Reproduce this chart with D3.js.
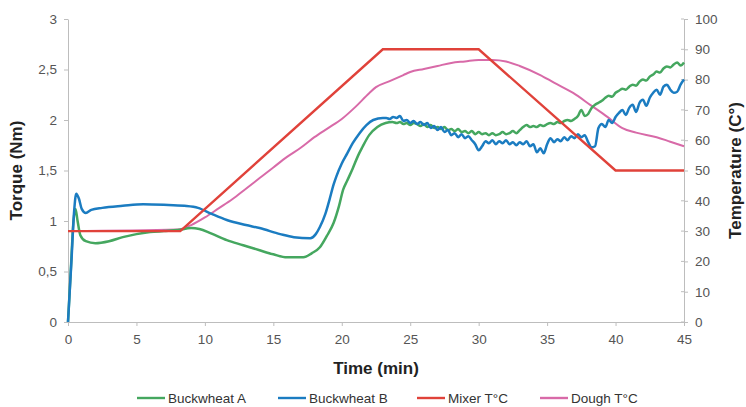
<!DOCTYPE html>
<html><head><meta charset="utf-8">
<script src="https://cdn.jsdelivr.net/npm/d3@7"></script>
<style>body{margin:0;background:#fff}svg{display:block;font-family:"Liberation Sans",Arial,sans-serif}</style>
</head><body><svg id="c" width="746" height="407"></svg>
<script>
const xTicks = [0,5,10,15,20,25,30,35,40,45];
const torqueTicks = [0,0.5,1,1.5,2,2.5,3];
const tempTicks = [0,10,20,30,40,50,60,70,80,90,100];
const seriesNames = ["Buckwheat A","Buckwheat B","Mixer T°C","Dough T°C"];

const buckwheatA = [[0,0],[0.2,0.5],[0.4,1.0],[0.55,1.12],[0.7,1.0],[0.9,0.86],[1.3,0.8],[2,0.78],[3,0.8],[4,0.84],[5,0.87],[6,0.89],[7,0.9],[8,0.91],[9,0.93],[9.6,0.92],[10.4,0.88],[11.6,0.81],[12.8,0.76],[14,0.71],[15,0.67],[16,0.64],[17.2,0.64],[17.8,0.68],[18.4,0.74],[18.9,0.85],[19.4,0.98],[19.8,1.15],[20.1,1.31],[20.4,1.4],[20.8,1.52],[21.2,1.65],[21.5,1.73],[22,1.85],[22.6,1.93],[23.2,1.97],[23.7,1.98],
[24,1.97],[24.25,1.98],[24.5,1.96],[24.75,1.97],[25,1.95],[25.25,1.97],[25.5,1.96],[25.75,1.94],[26,1.96],[26.25,1.93],[26.5,1.95],[26.75,1.92],[27,1.93],[27.25,1.91],[27.5,1.93],[27.75,1.9],[28,1.91],[28.25,1.89],[28.5,1.91],[28.75,1.88],[29,1.89],[29.25,1.87],[29.5,1.89],[29.75,1.86],[30,1.88],[30.25,1.86],[30.5,1.87],[30.75,1.85],[31,1.87],[31.25,1.85],[31.5,1.86],[31.75,1.88],[32,1.86],[32.25,1.87],[32.5,1.89],[32.75,1.87],[33,1.9],[33.25,1.93],[33.5,1.95],[33.75,1.93],[34,1.94],[34.25,1.93],[34.5,1.95],[34.75,1.94],[35,1.96],[35.25,1.97],[35.5,1.96],[35.75,1.98],[36,1.97],[36.25,1.99],[36.5,2.0],[36.75,1.99],[37,2.01],[37.25,2.04],[37.5,2.1],[37.75,2.04],[38,2.06],[38.25,2.12],[38.5,2.15],[38.75,2.17],[39,2.19],[39.25,2.22],[39.5,2.24],[39.75,2.23],[40,2.27],[40.25,2.29],[40.5,2.31],[40.75,2.3],[41,2.33],[41.25,2.35],[41.5,2.34],[41.75,2.38],[42,2.4],[42.25,2.39],[42.5,2.43],[42.75,2.45],[43,2.48],[43.25,2.47],[43.5,2.51],[43.75,2.53],[44,2.52],[44.25,2.55],[44.5,2.57],[44.75,2.54],[45,2.57]];

const buckwheatB = [[0,0],[0.25,0.6],[0.45,1.1],[0.6,1.27],[0.8,1.22],[1.0,1.12],[1.3,1.08],[1.7,1.11],[2.5,1.13],[4,1.15],[5.5,1.165],[7,1.16],[8.5,1.15],[9.5,1.13],[10.5,1.07],[11.6,1.01],[13,0.96],[14,0.93],[15.5,0.87],[16.5,0.84],[17.7,0.83],[18.1,0.87],[18.4,0.94],[18.8,1.07],[19.1,1.21],[19.4,1.36],[19.6,1.44],[20,1.57],[20.4,1.67],[20.8,1.77],[21.3,1.87],[21.8,1.95],[22.3,2.0],[23,2.02],
[23.25,2.02],[23.5,2.01],[23.75,2.03],[24,2.02],[24.25,2.04],[24.5,1.99],[24.75,2.0],[25,1.97],[25.25,1.99],[25.5,1.96],[25.75,1.98],[26,1.95],[26.25,1.97],[26.5,1.92],[26.75,1.94],[27,1.9],[27.25,1.93],[27.5,1.88],[27.75,1.9],[28,1.85],[28.25,1.87],[28.5,1.83],[28.75,1.86],[29,1.82],[29.25,1.84],[29.5,1.8],[29.75,1.76],[30,1.7],[30.25,1.74],[30.5,1.79],[30.75,1.77],[31,1.8],[31.25,1.76],[31.5,1.79],[31.75,1.77],[32,1.8],[32.25,1.76],[32.5,1.78],[32.75,1.75],[33,1.78],[33.25,1.76],[33.5,1.79],[33.75,1.74],[34,1.76],[34.25,1.68],[34.5,1.72],[34.75,1.67],[35,1.76],[35.25,1.82],[35.5,1.78],[35.75,1.81],[36,1.79],[36.25,1.83],[36.5,1.8],[36.75,1.84],[37,1.82],[37.25,1.86],[37.5,1.83],[37.75,1.85],[38,1.78],[38.25,1.73],[38.5,1.74],[38.75,1.92],[39,1.96],[39.25,1.93],[39.5,2.0],[39.75,1.97],[40,2.03],[40.25,2.07],[40.5,2.1],[40.75,2.05],[41,2.12],[41.25,2.15],[41.5,2.08],[41.75,2.17],[42,2.2],[42.25,2.14],[42.5,2.22],[42.75,2.27],[43,2.3],[43.25,2.25],[43.5,2.33],[43.75,2.35],[44,2.3],[44.25,2.27],[44.5,2.28],[44.75,2.35],[45,2.4]];

const mixerT = [[0,30],[8.2,30],[23,90],[30,90],[40,50],[45,50]];

const doughT = [[0,30],[8,30.5],[9,32],[10,34.5],[11,37.5],[12,40.5],[13,44],[14,47.5],[15,51],[16,54.5],[17,57.5],[18,61],[19,64],[20,67],[21,71],[22,75.5],[22.5,77.5],[23.5,79.5],[24.5,81.5],[25,82.5],[26,83.5],[27,84.5],[28,85.5],[29,86],[30,86.5],[31,86.5],[32,86],[33,84.5],[34.5,81.5],[35.5,79],[36.9,75.6],[38.2,71.5],[39.4,67.7],[40.5,64],[41.5,62.5],[43,61],[44,59.5],[45,58]];

const colors = {A:"#45a75f", B:"#1b7cc1", M:"#e0423a", D:"#d86aa8"};

const svg = d3.select("#c");
const L=68, R=684, T=19, B=322;
const x = d3.scaleLinear().domain([0,45]).range([L,R]);
const yL = d3.scaleLinear().domain([0,3]).range([B,T]);
const yR = d3.scaleLinear().domain([0,100]).range([B,T]);

const fmt = d => String(d).replace(".", ",");
const axisColor = "#bdbdbd", tickText = "#555";

function styleAxis(g){
  g.selectAll("path,line").attr("stroke",axisColor);
  g.selectAll("text").attr("fill",tickText).attr("font-size",13.5).attr("font-family",'"Liberation Sans",Arial,sans-serif');
}
svg.append("g").attr("transform",`translate(0,${B})`)
  .call(d3.axisBottom(x).tickValues(xTicks).tickSize(4).tickSizeOuter(0).tickPadding(8))
  .call(styleAxis);
svg.append("g").attr("transform",`translate(${L},0)`)
  .call(d3.axisLeft(yL).tickValues(torqueTicks).tickFormat(fmt).tickSize(4).tickSizeOuter(0).tickPadding(7))
  .call(styleAxis);
svg.append("g").attr("transform",`translate(${R},0)`)
  .call(d3.axisRight(yR).tickValues(tempTicks).tickSize(4).tickSizeOuter(0).tickPadding(7))
  .call(styleAxis);
svg.append("g").selectAll("line").data(tempTicks).join("line")
  .attr("x1",R-3).attr("x2",R).attr("y1",d=>yR(d)).attr("y2",d=>yR(d)).attr("stroke",axisColor);

const lineL = d3.line().x(d=>x(d[0])).y(d=>yL(d[1])).curve(d3.curveMonotoneX);
const lineR = d3.line().x(d=>x(d[0])).y(d=>yR(d[1])).curve(d3.curveMonotoneX);
const lineStraight = d3.line().x(d=>x(d[0])).y(d=>yR(d[1]));

svg.append("path").datum(doughT).attr("d",lineR).attr("fill","none").attr("stroke",colors.D).attr("stroke-width",2).attr("stroke-linejoin","round");
svg.append("path").datum(buckwheatA).attr("d",lineL).attr("fill","none").attr("stroke",colors.A).attr("stroke-width",2.5).attr("stroke-linejoin","round");
svg.append("path").datum(buckwheatB).attr("d",lineL).attr("fill","none").attr("stroke",colors.B).attr("stroke-width",2.5).attr("stroke-linejoin","round");
svg.append("path").datum(mixerT).attr("d",lineStraight).attr("fill","none").attr("stroke",colors.M).attr("stroke-width",2.4);

svg.append("text").attr("transform",`translate(22,${(T+B)/2}) rotate(-90)`).attr("text-anchor","middle")
  .attr("font-size",17).attr("font-weight","bold").attr("fill","#222").text("Torque (Nm)");
svg.append("text").attr("transform",`translate(741,${(T+B)/2}) rotate(-90)`).attr("text-anchor","middle")
  .attr("font-size",17).attr("font-weight","bold").attr("fill","#222").text("Temperature (C°)");
svg.append("text").attr("x",(L+R)/2).attr("y",374).attr("text-anchor","middle")
  .attr("font-size",17).attr("font-weight","bold").attr("fill","#222").text("Time (min)");

const legX = [137,278,417,540];
const legC = [colors.A,colors.B,colors.M,colors.D];
const lg = svg.append("g").selectAll("g").data(seriesNames).join("g").attr("transform",(d,i)=>`translate(${legX[i]},398)`);
lg.append("line").attr("x1",0).attr("x2",28).attr("y1",0).attr("y2",0).attr("stroke",(d,i)=>legC[i]).attr("stroke-width",2.4);
lg.append("text").attr("x",31).attr("y",4.5).attr("font-size",13.5).attr("fill","#333").text(d=>d);
</script></body></html>
